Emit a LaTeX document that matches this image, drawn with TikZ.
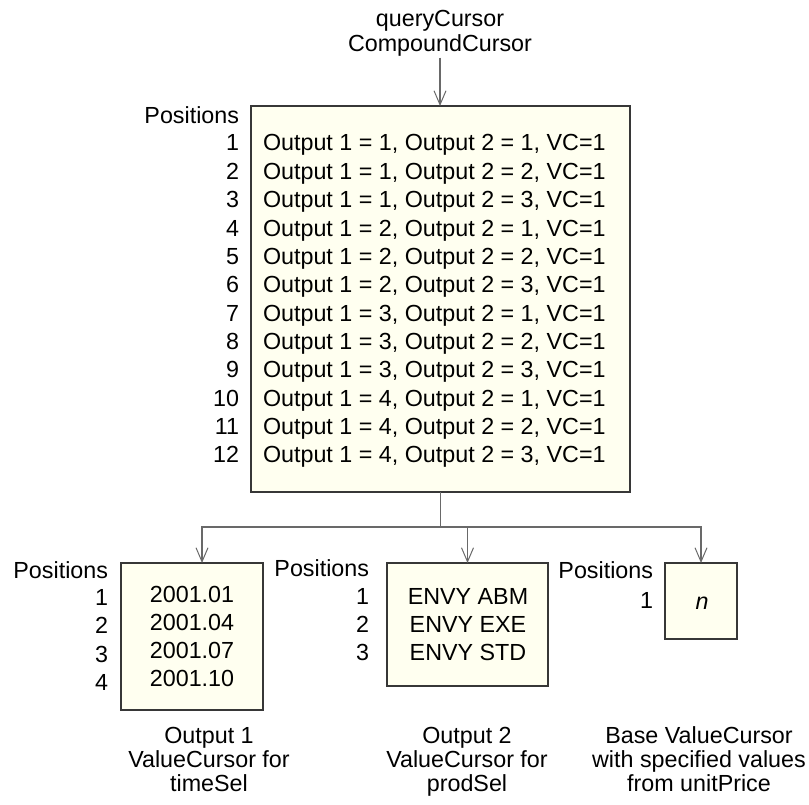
\documentclass[tikz,border=0pt]{standalone}
\usepackage{fontspec}
\setmainfont{Liberation Sans}
\usetikzlibrary{arrows.meta}
\definecolor{boxfill}{RGB}{255,255,240}
\definecolor{boxline}{RGB}{55,55,55}
\definecolor{connc}{RGB}{105,105,105}
\begin{document}
\begin{tikzpicture}[x=1pt,y=-1pt,
  every node/.style={font=\fontsize{23.3}{28.4}\selectfont, inner sep=0pt, outer sep=0pt},
  cbox/.style={draw=boxline, fill=boxfill, line width=1.1pt, rectangle},
  conn/.style={draw=connc, line width=1.3pt},
  arr/.style={conn, -{Straight Barb[length=14pt,width=12pt,line width=1pt]}},
  lbl/.style={anchor=base east},
  txt/.style={anchor=base west},
  ctr/.style={anchor=base},
]
\useasboundingbox (0,0) rectangle (809,805);

% top label
\node[ctr] (q1) at (440,26.7) {queryCursor};
\node[ctr] (q2) at (440,51.7) {CompoundCursor};

% main compound cursor box
\node[cbox, minimum width=379pt, minimum height=386pt] (main) at (440.5,299) {};
\draw[arr] ([yshift=-1pt]q2.south) -- (q2.south |- main.north);

\node[lbl] (pos0) at (239,123.3) {Positions};
\foreach \i/\a/\b in {1/1/1,2/1/2,3/1/3,4/2/1,5/2/2,6/2/3,7/3/1,8/3/2,9/3/3,10/4/1,11/4/2,12/4/3}{
  \node[txt] (r\i) at (263,{151+(\i-1)*28.35}) {Output 1 = \a, Output 2 = \b, VC=1};
  \node[lbl] (p\i) at (239,{151+(\i-1)*28.35}) {\i};
}

% value cursor boxes
\node[cbox, minimum width=142pt, minimum height=147pt] (b1) at (192,636.5) {};
\node[cbox, minimum width=161pt, minimum height=123pt] (b2) at (467.5,624.5) {};
\node[cbox, minimum width=72pt, minimum height=76pt] (b3) at (701,601) {};

% connectors
\coordinate (busy) at (0,527);
\coordinate (bus) at (main.south |- busy);
\draw[conn] (main.south) -- (bus);
\draw[arr] (bus) -| ([xshift=10pt]b1.north);
\draw[arr] (bus) -| (b2.north);
\draw[arr] (bus) -| (b3.north);

% box 1 contents
\node[lbl] (pos1) at (108,578.3) {Positions};
\foreach \i/\v in {1/2001.01,2/2001.04,3/2001.07,4/2001.10}{
  \node[ctr] (t1\i) at (192,{602+(\i-1)*28}) {\v};
  \node[lbl] (n1\i) at (108,{605.5+(\i-1)*28.3}) {\i};
}

% box 2 contents
\node[lbl] (pos2) at (369,576.7) {Positions};
\foreach \i/\v in {1/ENVY ABM,2/ENVY EXE,3/ENVY STD}{
  \node[ctr] (t2\i) at (468,{604.3+(\i-1)*28}) {\v};
  \node[lbl] (n2\i) at (369,{604.3+(\i-1)*28}) {\i};
}

% box 3 contents
\node[lbl] (pos3) at (653,578.3) {Positions};
\node[ctr] (t31) at (702,609.3) {\itshape n};
\node[lbl] (n31) at (653,608) {1};

% captions
\node[ctr] (c1a) at (209,743) {Output 1};
\node[ctr] (c1b) at (209,767) {ValueCursor for};
\node[ctr] (c1c) at (209,791) {timeSel};
\node[ctr] (c2a) at (467,743) {Output 2};
\node[ctr] (c2b) at (467,767) {ValueCursor for};
\node[ctr] (c2c) at (467,791) {prodSel};
\node[ctr] (c3a) at (699,743) {Base ValueCursor};
\node[ctr] (c3b) at (699,767) {with specified values};
\node[ctr] (c3c) at (699,791) {from unitPrice};
\end{tikzpicture}
\end{document}
